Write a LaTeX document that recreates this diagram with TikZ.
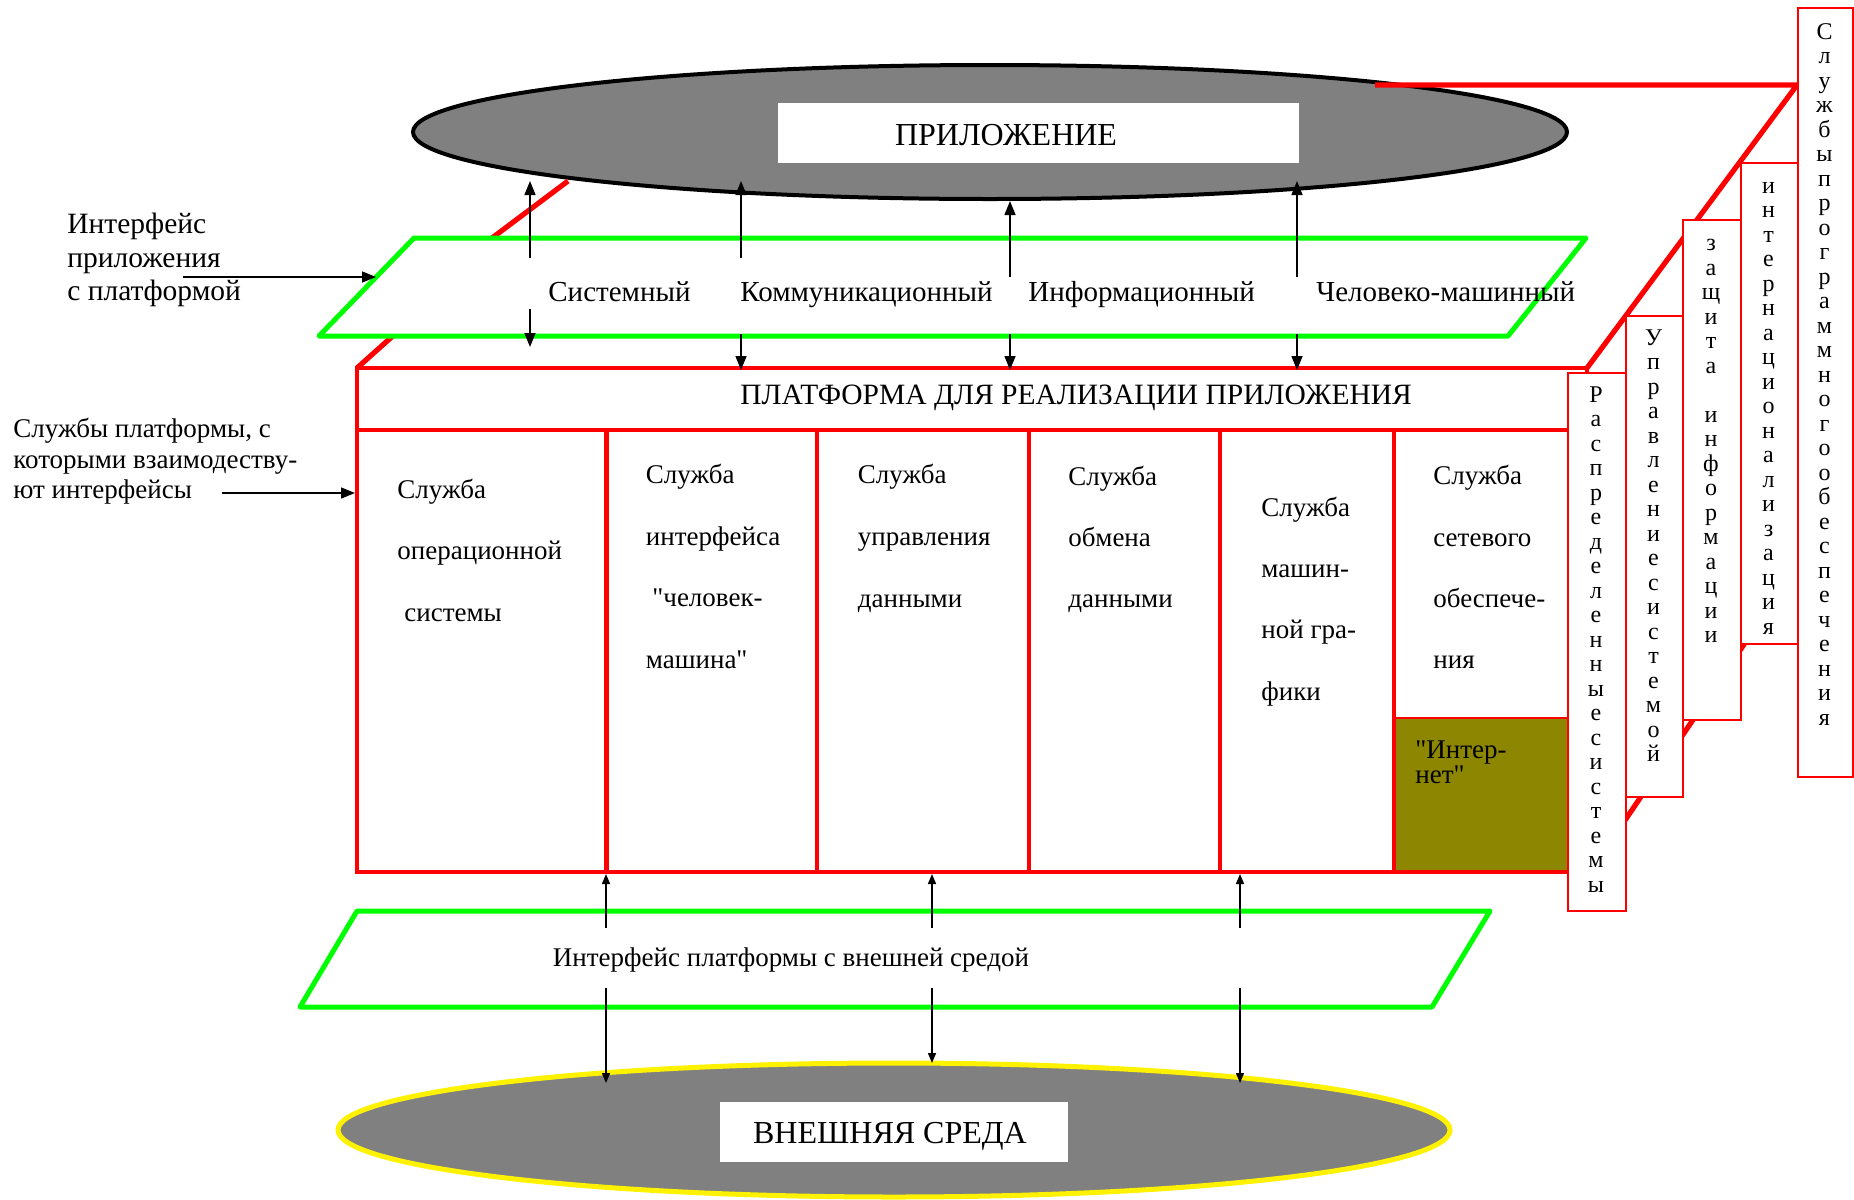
\documentclass[tikz,border=0pt]{standalone}
\usepackage{fontspec}
\setmainfont{Liberation Serif}[Ligatures=TeXOff]
\usetikzlibrary{shapes.geometric,arrows.meta}
\begin{document}
\begin{tikzpicture}[x=0.5pt,y=-0.5pt,
  edge3d/.style={draw=red,line width=2.6pt},
  frame/.style={draw=red,line width=2.1pt},
  iface/.style={draw=green,line width=2.5pt,fill=white,line join=round},
  bigarrow/.style={line width=0.75pt,-{Triangle[length=7pt,width=5.5pt]}},
  smallarrow/.style={line width=0.7pt,-{Triangle[length=5pt,width=4pt]}},
  sidebox/.style={draw=red,line width=1pt,fill=white,anchor=north west,inner sep=0pt},
  vlet/.style={anchor=base,inner sep=0pt,font=\fontsize{12}{14}\selectfont},
  coltext/.style={anchor=base west,inner sep=0pt,font=\fontsize{13.5}{16}\selectfont},
  ifacetext/.style={anchor=base west,inner sep=0pt,font=\fontsize{14.5}{17}\selectfont},
  sidetextA/.style={anchor=base west,inner sep=0pt,font=\fontsize{14.75}{17}\selectfont},
  sidetextB/.style={anchor=base west,inner sep=0pt,font=\fontsize{13.5}{15.5}\selectfont},
  bigtext/.style={anchor=base,inner sep=0pt,font=\fontsize{16}{19}\selectfont},
  plate/.style={fill=white,inner sep=0pt}
]
\useasboundingbox (0,0) rectangle (1854,1200);

% ---- application ellipse ----
\node[ellipse,draw=black,line width=2pt,fill=gray,inner sep=0pt,
      minimum width=1154*0.5pt,minimum height=134*0.5pt] (app) at (990,132) {};
\node[plate,minimum width=521*0.5pt,minimum height=60*0.5pt] (appbox) at (1038.5,133) {};
\node[bigtext] (apptext) at (1006,145) {ПРИЛОЖЕНИЕ};

% ---- edges of the platform block ----
\coordinate (tA) at (1375,85);
\coordinate (tB) at (1797,85);
\coordinate (tC) at (1587,368);
\draw[edge3d] (tA) -- (tB) -- (tC);
\coordinate (bA) at (1590,872);
\coordinate (bB) at (1797,566);
\draw[edge3d] (bA) -- (bB);
\coordinate (lA) at (357,368);
\coordinate (lB) at (568,181);
\draw[edge3d] (lA) -- (395,334) -- (492,238) -- (lB);

% ---- application / platform interface ----
\draw[iface] (319,336) -- (414,238) -- (1586,238) -- (1508,336) -- cycle;
\node[ifacetext] (i1) at (548,301) {Системный};
\node[ifacetext] (i2) at (740,301) {Коммуникационный};
\node[ifacetext] (i3) at (1028,301) {Информационный};
\node[ifacetext] (i4) at (1316,301) {Человеко-машинный};

\coordinate (u1s) at (530,258);  \coordinate (u1e) at (530,181);
\coordinate (u2s) at (741,258);  \coordinate (u2e) at (741,181);
\coordinate (u3s) at (1010,277); \coordinate (u3e) at (1010,201);
\coordinate (u4s) at (1297,277); \coordinate (u4e) at (1297,181);
\coordinate (d1s) at (530,309);  \coordinate (d1e) at (530,347);
\coordinate (d2s) at (741,334);  \coordinate (d2e) at (741,370);
\coordinate (d3s) at (1010,334); \coordinate (d3e) at (1010,370);
\coordinate (d4s) at (1297,334); \coordinate (d4e) at (1297,370);

% ---- platform ----
\fill[white] (357,368) rectangle (1587,872);
\fill[olive] (1394,718) rectangle (1567,872);
\draw[red,line width=1pt] (1394,718) -- (1567,718);
\draw[frame] (357,368) rectangle (1587,872);
\draw[frame] (357,430) -- (1587,430);
\foreach \x in {606.5,817,1029,1220,1394} \draw[frame] (\x,430) -- (\x,872);

\foreach \s/\e in {u1s/u1e,u2s/u2e,u3s/u3e,u4s/u4e,d1s/d1e,d2s/d2e,d3s/d3e,d4s/d4e}
  \draw[bigarrow] (\s) -- (\e);

\node[anchor=base west,inner sep=0pt,font=\fontsize{14.75}{17}\selectfont] (plat)
  at (740,404) {ПЛАТФОРМА ДЛЯ РЕАЛИЗАЦИИ ПРИЛОЖЕНИЯ};

% service columns
\node[coltext] (c1a) at (397,498) {Служба};
\node[coltext] (c1b) at (397,559) {операционной};
\node[coltext] (c1c) at (404,621) {системы};

\node[coltext] (c2a) at (645.5,483) {Служба};
\node[coltext] (c2b) at (645.5,545) {интерфейса};
\node[coltext] (c2c) at (652,606) {"человек-};
\node[coltext] (c2d) at (645.5,668) {машина"};

\node[coltext] (c3a) at (857.5,483) {Служба};
\node[coltext] (c3b) at (857.5,545) {управления};
\node[coltext] (c3c) at (857.5,607) {данными};

\node[coltext] (c4a) at (1068,485) {Служба};
\node[coltext] (c4b) at (1068,546) {обмена};
\node[coltext] (c4c) at (1068,607) {данными};

\node[coltext] (c5a) at (1261,516) {Служба};
\node[coltext] (c5b) at (1261,577) {машин-};
\node[coltext] (c5c) at (1261,638) {ной гра-};
\node[coltext] (c5d) at (1261,700) {фики};

\node[coltext] (c6a) at (1433,484) {Служба};
\node[coltext] (c6b) at (1433,546) {сетевого};
\node[coltext] (c6c) at (1433,607) {обеспече-};
\node[coltext] (c6d) at (1433,668) {ния};

\node[coltext] (n1) at (1415,758) {"Интер-};
\node[coltext] (n2) at (1415,783) {нет"};

% ---- platform / environment interface ----
\draw[iface] (300,1007) -- (357,911) -- (1490,911) -- (1432,1007) -- cycle;
\node[anchor=base,inner sep=0pt,font=\fontsize{13.5}{16}\selectfont] (envif)
  at (791,966) {Интерфейс платформы с внешней средой};

% ---- environment ellipse ----
\node[ellipse,draw=yellow,line width=2.5pt,fill=gray,inner sep=0pt,
      minimum width=1112*0.5pt,minimum height=134*0.5pt] (env) at (894,1130) {};
\node[plate,minimum width=348*0.5pt,minimum height=60*0.5pt] (envbox) at (894,1132) {};
\node[bigtext] (envtext) at (890,1143) {ВНЕШНЯЯ СРЕДА};

\coordinate (p1s) at (606,928);  \coordinate (p1e) at (606,874);
\coordinate (p2s) at (932,928);  \coordinate (p2e) at (932,874);
\coordinate (p3s) at (1240,928); \coordinate (p3e) at (1240,874);
\coordinate (q1s) at (606,988);  \coordinate (q1e) at (606,1083);
\coordinate (q2s) at (932,988);  \coordinate (q2e) at (932,1063);
\coordinate (q3s) at (1240,988); \coordinate (q3e) at (1240,1083);
\foreach \s/\e in {p1s/p1e,p2s/p2e,p3s/p3e,q1s/q1e,q2s/q2e,q3s/q3e}
  \draw[smallarrow] (\s) -- (\e);

% ---- left captions ----
\node[sidetextA] (la1) at (67,233) {Интерфейс};
\node[sidetextA] (la2) at (67,267) {приложения};
\node[sidetextA] (la3) at (67,300) {с платформой};
\coordinate (laS) at (183,277);
\coordinate (laE) at (376,277);
\draw[bigarrow] (laS) -- (laE);

\node[sidetextB] (lb1) at (13,437) {Службы платформы, с};
\node[sidetextB] (lb2) at (13,468) {которыми взаимодеству-};
\node[sidetextB] (lb3) at (13,498) {ют интерфейсы};
\coordinate (lbS) at (222,493);
\coordinate (lbE) at (355,493);
\draw[bigarrow] (lbS) -- (lbE);

% ---- vertical service boxes ----
\node[sidebox,minimum width=55*0.5pt,minimum height=769*0.5pt] (sb1) at (1797,7) {};
\node[sidebox,minimum width=57*0.5pt,minimum height=481*0.5pt] (sb2) at (1740,162) {};
\node[sidebox,minimum width=58*0.5pt,minimum height=500*0.5pt] (sb3) at (1682,219) {};
\node[sidebox,minimum width=57*0.5pt,minimum height=481*0.5pt] (sb4) at (1625,315) {};
\node[sidebox,minimum width=58*0.5pt,minimum height=538*0.5pt] (sb5) at (1567,372) {};

\foreach \ch [count=\i from 0] in {С,л,у,ж,б,ы,п,р,о,г,р,а,м,м,н,о,г,о,о,б,е,с,п,е,ч,е,н,и,я}
  \node[vlet] (sa\i) at (1824.5,39+\i*24.5) {\ch};
\foreach \ch [count=\i from 0] in {и,н,т,е,р,н,а,ц,и,о,н,а,л,и,з,а,ц,и,я}
  \node[vlet] (sbl\i) at (1768.5,193+\i*24.5) {\ch};
\foreach \ch [count=\i from 0] in {з,а,щ,и,т,а,{},и,н,ф,о,р,м,а,ц,и,и}
  \node[vlet] (sc\i) at (1711,250.5+\i*24.5) {\ch};
\foreach \ch [count=\i from 0] in {У,п,р,а,в,л,е,н,и,е,с,и,с,т,е,м,о,й}
  \node[vlet] (sd\i) at (1653.5,345+\i*24.5) {\ch};
\foreach \ch [count=\i from 0] in {Р,а,с,п,р,е,д,е,л,е,н,н,ы,е,с,и,с,т,е,м,ы}
  \node[vlet] (se\i) at (1596,402+\i*24.5) {\ch};
\end{tikzpicture}
\end{document}
